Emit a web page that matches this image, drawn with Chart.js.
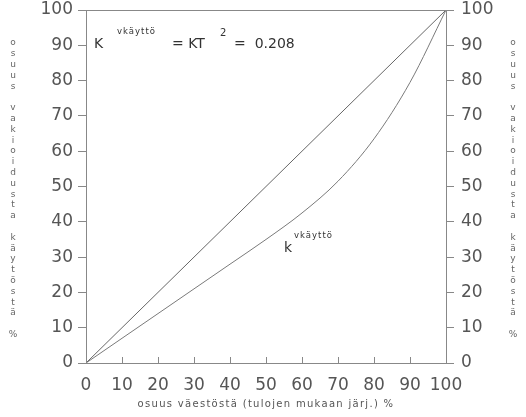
<!DOCTYPE html>
<html>
<head>
<meta charset="utf-8">
<script src="https://cdn.jsdelivr.net/npm/chart.js@4/dist/chart.umd.min.js"></script>
<style>
  html, body { margin: 0; padding: 0; background: #fff; }
  canvas { display: block; }
</style>
</head>
<body>
<canvas id="lorenz" width="526" height="417"></canvas>
<script>
// osuus väestöstä (x) ja osuus käytöstä (y), %
const popShare = [0, 10, 20, 30, 40, 50, 60, 70, 80, 90, 100];
const equality = [0, 10, 20, 30, 40, 50, 60, 70, 80, 90, 100];
const usageShare = [0, 7, 14, 21, 28, 35, 42.5, 51.5, 63.5, 79.5, 100];

const yTitle = 'osuus vakioidusta käytöstä %';
const xTitle = 'osuus väestöstä (tulojen mukaan järj.) %';

const ink = '#555';
const lineCol = '#7a7a7a';
const tickFont = { family: 'DejaVu Sans', size: 17 };

const extras = {
    id: 'extras',
    afterDraw(chart) {
        const ctx = chart.ctx;
        const a = chart.chartArea;
        const xs = chart.scales.x;
        ctx.save();
        // top border
        ctx.strokeStyle = '#888';
        ctx.lineWidth = 1;
        ctx.beginPath();
        ctx.moveTo(a.left, a.top + 0.5);
        ctx.lineTo(a.right, a.top + 0.5);
        ctx.stroke();
        // inward ticks on x axis
        xs.ticks.forEach(t => {
            const px = Math.round(xs.getPixelForValue(t.value)) + 0.5;
            ctx.beginPath();
            ctx.moveTo(px, a.bottom);
            ctx.lineTo(px, a.bottom - 6);
            ctx.stroke();
        });

        // stacked letters for y titles
        ctx.fillStyle = '#666';
        ctx.font = '9px "DejaVu Sans"';
        ctx.textAlign = 'center';
        ctx.textBaseline = 'middle';
        [...yTitle].forEach((ch, i) => {
            ctx.fillText(ch, 13, 43 + i * 10.8);
            ctx.fillText(ch, 513, 43 + i * 10.8);
        });

        // x title
        ctx.font = '10px "DejaVu Sans"';
        ctx.letterSpacing = '1.3px';
        ctx.fillStyle = ink;
        ctx.fillText(xTitle, (a.left + a.right) / 2, 404);

        // annotations
        ctx.textAlign = 'left';
        ctx.textBaseline = 'alphabetic';
        ctx.fillStyle = '#333';
        ctx.letterSpacing = '0px';
        ctx.font = '14px "DejaVu Sans"';
        ctx.fillText('K', 94, 48);
        ctx.fillText('= KT', 172, 48);
        ctx.fillText('=  0.208', 234, 48);
        ctx.fillText('k', 284, 252);
        ctx.font = '10px "DejaVu Sans"';
        ctx.fillText('2', 220, 36);
        ctx.font = '8.5px "DejaVu Sans"';
        ctx.letterSpacing = '1px';
        ctx.fillText('vkäyttö', 117, 34);
        ctx.fillText('vkäyttö', 294, 238);
        ctx.restore();
    }
};

new Chart(document.getElementById('lorenz'), {
    type: 'scatter',
    data: {
        datasets: [
            {
                data: popShare.map((x, i) => ({ x, y: equality[i] })),
                showLine: true,
                borderColor: '#666',
                borderWidth: 1,
                pointRadius: 0
            },
            {
                data: popShare.map((x, i) => ({ x, y: usageShare[i] })),
                showLine: true,
                borderColor: lineCol,
                borderWidth: 1,
                pointRadius: 0,
                cubicInterpolationMode: 'monotone'
            }
        ]
    },
    options: {
        responsive: false,
        animation: false,
        devicePixelRatio: 1,
        layout: { padding: { top: 10 } },
        plugins: { legend: { display: false }, tooltip: { enabled: false } },
        scales: {
            x: {
                type: 'linear', min: 0, max: 100,
                ticks: { stepSize: 10, font: tickFont, color: ink, padding: 12, maxRotation: 0, autoSkip: false },
                grid: { drawOnChartArea: false, drawTicks: false },
                border: { color: '#888' },
                afterFit: s => { s.height = 54; }
            },
            y: {
                position: 'left', min: 0, max: 100,
                ticks: { stepSize: 10, font: tickFont, color: ink, padding: 5 },
                grid: { drawOnChartArea: false, tickLength: 8, tickColor: '#888' },
                border: { color: '#888' },
                afterFit: s => { s.width = 86; s.paddingTop = 0; s.paddingBottom = 0; }
            },
            y2: {
                position: 'right', min: 0, max: 100,
                ticks: { stepSize: 10, font: tickFont, color: ink, padding: 7 },
                grid: { drawOnChartArea: false, tickLength: 8, tickColor: '#888' },
                border: { color: '#888' },
                afterFit: s => { s.width = 80; s.paddingTop = 0; s.paddingBottom = 0; }
            }
        }
    },
    plugins: [extras]
});
</script>
</body>
</html>
